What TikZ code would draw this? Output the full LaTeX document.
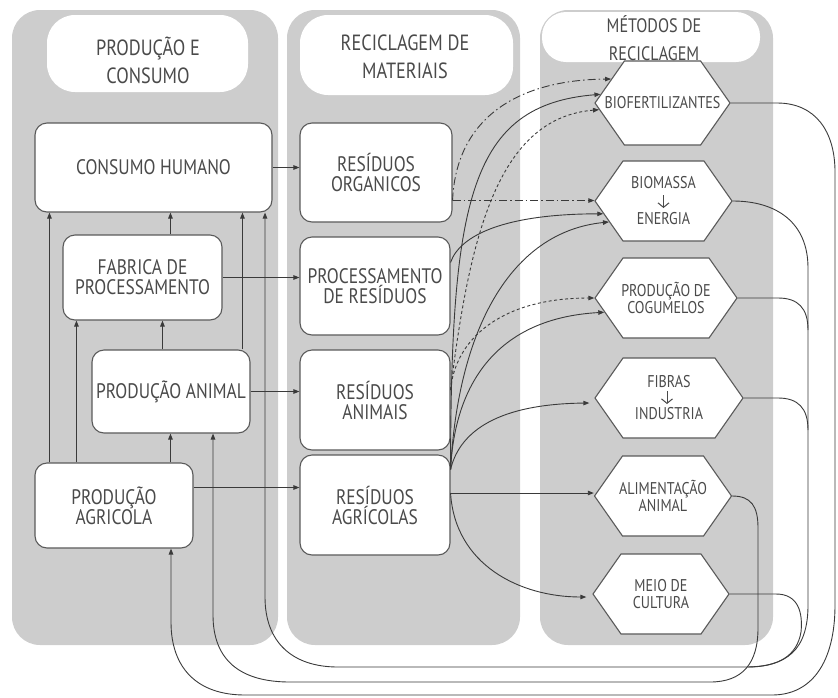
\documentclass[tikz,border=0pt]{standalone}
\usepackage{fontspec}
\setmainfont{PT Sans}[FakeStretch=0.83]
\usetikzlibrary{shapes.symbols,arrows.meta}
\definecolor{panelgray}{HTML}{CDCDCD}
\definecolor{inkline}{HTML}{3A3A3A}
\definecolor{boxline}{HTML}{5A5A5A}
\definecolor{inktext}{HTML}{4A4A4A}
% zero-width line so long labels overhang the hexagon body without widening it
\newcommand\zw[1]{\makebox[0pt]{#1}}
\begin{document}
\begin{tikzpicture}[x=1pt,y=-1pt,
  panel/.style={fill=panelgray, draw=none, rounded corners=28pt},
  pill/.style={fill=white, draw=none},
  headtext/.style={font=\fontsize{22}{28}\selectfont, text=inktext, align=center, inner sep=0pt},
  roundbox/.style={draw=boxline, fill=white, line width=1.1pt, rounded corners=12pt,
    align=center, text=inktext, font=\fontsize{21}{20}\selectfont, inner sep=0pt},
  hexbox/.style={shape=signal, signal to=east and west, signal pointer angle=110,
    draw=boxline, fill=white, line width=1.1pt, align=center, text=inktext,
    font=\fontsize{17}{17}\selectfont, inner sep=0pt, minimum height=80pt},
  flow/.style={draw=inkline, line width=0.9pt},
  arr/.style={flow, -{Triangle[length=6pt,width=4.5pt]}},
  openarrow/.style={draw=inktext, line width=1pt, -{Straight Barb[length=4.5pt,width=11pt]}},
  dashdot/.style={dash pattern=on 8pt off 3pt on 1.5pt off 3pt},
  dots/.style={dash pattern=on 3pt off 2.5pt},
]
\useasboundingbox (0,0) rectangle (838,697);

% --- column panels
\fill[panel] (12,10) rectangle (278,645);
\fill[panel] (287,10) rectangle (520,645);
\fill[panel] (540,10) rectangle (773,645);

% --- column header backgrounds
\fill[pill, rounded corners=28pt] (47,15) rectangle (248,92);
\fill[pill, rounded corners=28pt] (300,15) rectangle (513,95);
\fill[pill, rounded corners=24pt] (542,12) rectangle (760,62);

% --- production and consumption
\node[roundbox, minimum width=237pt, minimum height=89pt] (ch)  at (153.5,167.5) {CONSUMO HUMANO};
\node[roundbox, minimum width=159pt, minimum height=85pt] (fp)  at (142.5,277.5) {FABRICA DE\\PROCESSAMENTO};
\node[roundbox, minimum width=158pt, minimum height=83pt] (pan) at (171,391.5)   {PRODUÇÃO ANIMAL};
\node[roundbox, minimum width=158pt, minimum height=85pt] (pag) at (114,505.5)   {PRODUÇÃO\\AGRICOLA};

% --- material recycling
\node[roundbox, minimum width=152pt, minimum height=99pt]  (ro)  at (376,172.5) {RESÍDUOS\\ORGANICOS};
\node[roundbox, minimum width=150pt, minimum height=98pt]  (rp)  at (375,286)   {PROCESSAMENTO\\DE RESÍDUOS};
\node[roundbox, minimum width=150pt, minimum height=100pt] (ra)  at (375,400)   {RESÍDUOS\\ANIMAIS};
\node[roundbox, minimum width=150pt, minimum height=100pt] (rag) at (375,505)   {RESÍDUOS\\AGRÍCOLAS};

% --- recycling methods
\node[hexbox, minimum width=135pt, minimum height=84pt] (bio) at (662.5,103) {\zw{BIOFERTILIZANTES}};
\node[hexbox, minimum width=137pt] (bm)  at (663.5,201) {\zw{BIOMASSA}\\[19pt]\zw{ENERGIA}};
\node[hexbox, minimum width=142pt] (cog) at (666,298)   {\zw{PRODUÇÃO DE}\\\zw{COGUMELOS}};
\node[hexbox, minimum width=148pt] (fib) at (669,398)   {\zw{FIBRAS}\\[15pt]\zw{INDUSTRIA}};
\node[hexbox, minimum width=137pt] (ali) at (663,496)   {\zw{ALIMENTAÇÃO}\\\zw{ANIMAL}};
\node[hexbox, minimum width=136pt] (mei) at (661,594)   {\zw{MEIO DE}\\\zw{CULTURA}};

% small conversion arrows inside two of the methods
\draw[openarrow] ([yshift=6pt]bm.center)  -- ([yshift=-7pt]bm.center);
\draw[openarrow] ([xshift=-2pt,yshift=7pt]fib.center) -- ([xshift=-2pt,yshift=-6pt]fib.center);

% --- column header titles
\node[headtext] (hd1) at (148,60) {PRODUÇÃO E\\CONSUMO};
\node[headtext] (hd2) at (405,57) {RECICLAGEM DE\\MATERIAIS};
\node[headtext, font=\fontsize{19.5}{28}\selectfont] (hd3) at (654,38) {MÉTODOS DE\\RECICLAGEM};

% --- flows inside production and consumption
\coordinate (agToCh)  at ([xshift=15pt]pag.north west);
\coordinate (agToFp)  at ([xshift=42pt]pag.north west);
\coordinate (agToAn)  at ([xshift=136pt]pag.north west);
\coordinate (anToFp)  at ([xshift=71pt]pan.north west);
\coordinate (anToCh)  at ([xshift=151pt]pan.north west);
\coordinate (fpToCh)  at ([xshift=108pt]fp.north west);
\draw[arr] (agToCh) -- (agToCh |- ch.south);
\draw[arr] (agToFp) -- (agToFp |- fp.south);
\draw[arr] (agToAn) -- (agToAn |- pan.south);
\draw[arr] (anToFp) -- (anToFp |- fp.south);
\draw[arr] (anToCh) -- (anToCh |- ch.south);
\draw[arr] (fpToCh) -- (fpToCh |- ch.south);

% --- flows into material recycling
\coordinate (agOut) at ([yshift=18pt]pag.east);
\draw[arr] (ch.east)  -- (ch.east -| ro.west);
\draw[arr] (fp.east)  -- (fp.east -| rp.west);
\draw[arr] (pan.east) -- (pan.east -| ra.west);
\draw[arr] (agOut)    -- (agOut -| rag.west);

% --- flows into recycling methods
\coordinate (roA)  at ([yshift=22pt]ro.south east);
\coordinate (rpA)  at ([yshift=-26pt]rp.north east);
\coordinate (raA)  at ([yshift=10pt]ra.east);
\coordinate (ragA) at ([yshift=-15pt]rag.north east);
\coordinate (ragB) at ([yshift=12pt]rag.east);

\draw[arr, dashdot] (roA) -- (roA -| bm.west);
\draw[arr, dashdot] (roA) .. controls (456,120) and (515,80) .. (bio.155);
\draw[arr, dots] (raA) .. controls (470,230) and (500,118) .. (bio.186);
\draw[arr, dots] (raA) .. controls (455,340) and (500,298) .. (cog.west);
\draw[arr] (rpA)  .. controls (460,235) and (505,214) .. (bm.192);
\draw[arr] (ragA) .. controls (451,200) and (470,105) .. (bio.172);
\draw[arr] (ragA) .. controls (458,330) and (510,232) .. (bm.201);
\draw[arr] (ragA) .. controls (455,380) and (500,318) .. (cog.193);
\draw[arr] (ragA) .. controls (460,430) and (500,404) .. ([xshift=-5pt,yshift=-5pt]fib.west);
\draw[arr] (ragB) -- (ragB -| ali.west);
\draw[arr] (ragB) .. controls (455,565) and (520,597) .. ([xshift=-6pt,yshift=-3pt]mei.west);

% --- return loops
\coordinate (agIn) at ([xshift=57pt]pag.south);
\coordinate (anIn) at ([xshift=42pt]pan.south);
\coordinate (chIn) at ([xshift=111.5pt]ch.south);
\draw[arr] (bio.east) -- (777,103) .. controls (816,103) and (835,132) .. (835,172)
  -- (835,605) .. controls (835,662) and (812,695) .. (772,695)
  -- (245,695) .. controls (197,695) and (171,668) .. (171,622) -- (agIn);
\draw[arr] (bm.east) .. controls (776,201) and (808,222) .. (808,268)
  -- (808,605) .. controls (808,650) and (787,667) .. (745,667)
  -- (338,667) .. controls (292,667) and (265,642) .. (265,597) -- (chIn);
\draw[flow] (cog.east) -- (778,298) .. controls (798,298) and (808,308) .. (808,330);
\draw[flow] (fib.east) -- (778,398) .. controls (798,398) and (808,408) .. (808,430);
\draw[flow] (mei.east) -- (776,594) .. controls (798,594) and (803,612) .. (801,632)
  .. controls (797,656) and (778,667) .. (748,667);
\draw[arr] (ali.east) .. controls (751,496) and (758,506) .. (758,528)
  -- (758,628) .. controls (758,664) and (742,682) .. (710,682)
  -- (290,682) .. controls (240,682) and (213,660) .. (213,615) -- (anIn);
\end{tikzpicture}
\end{document}
